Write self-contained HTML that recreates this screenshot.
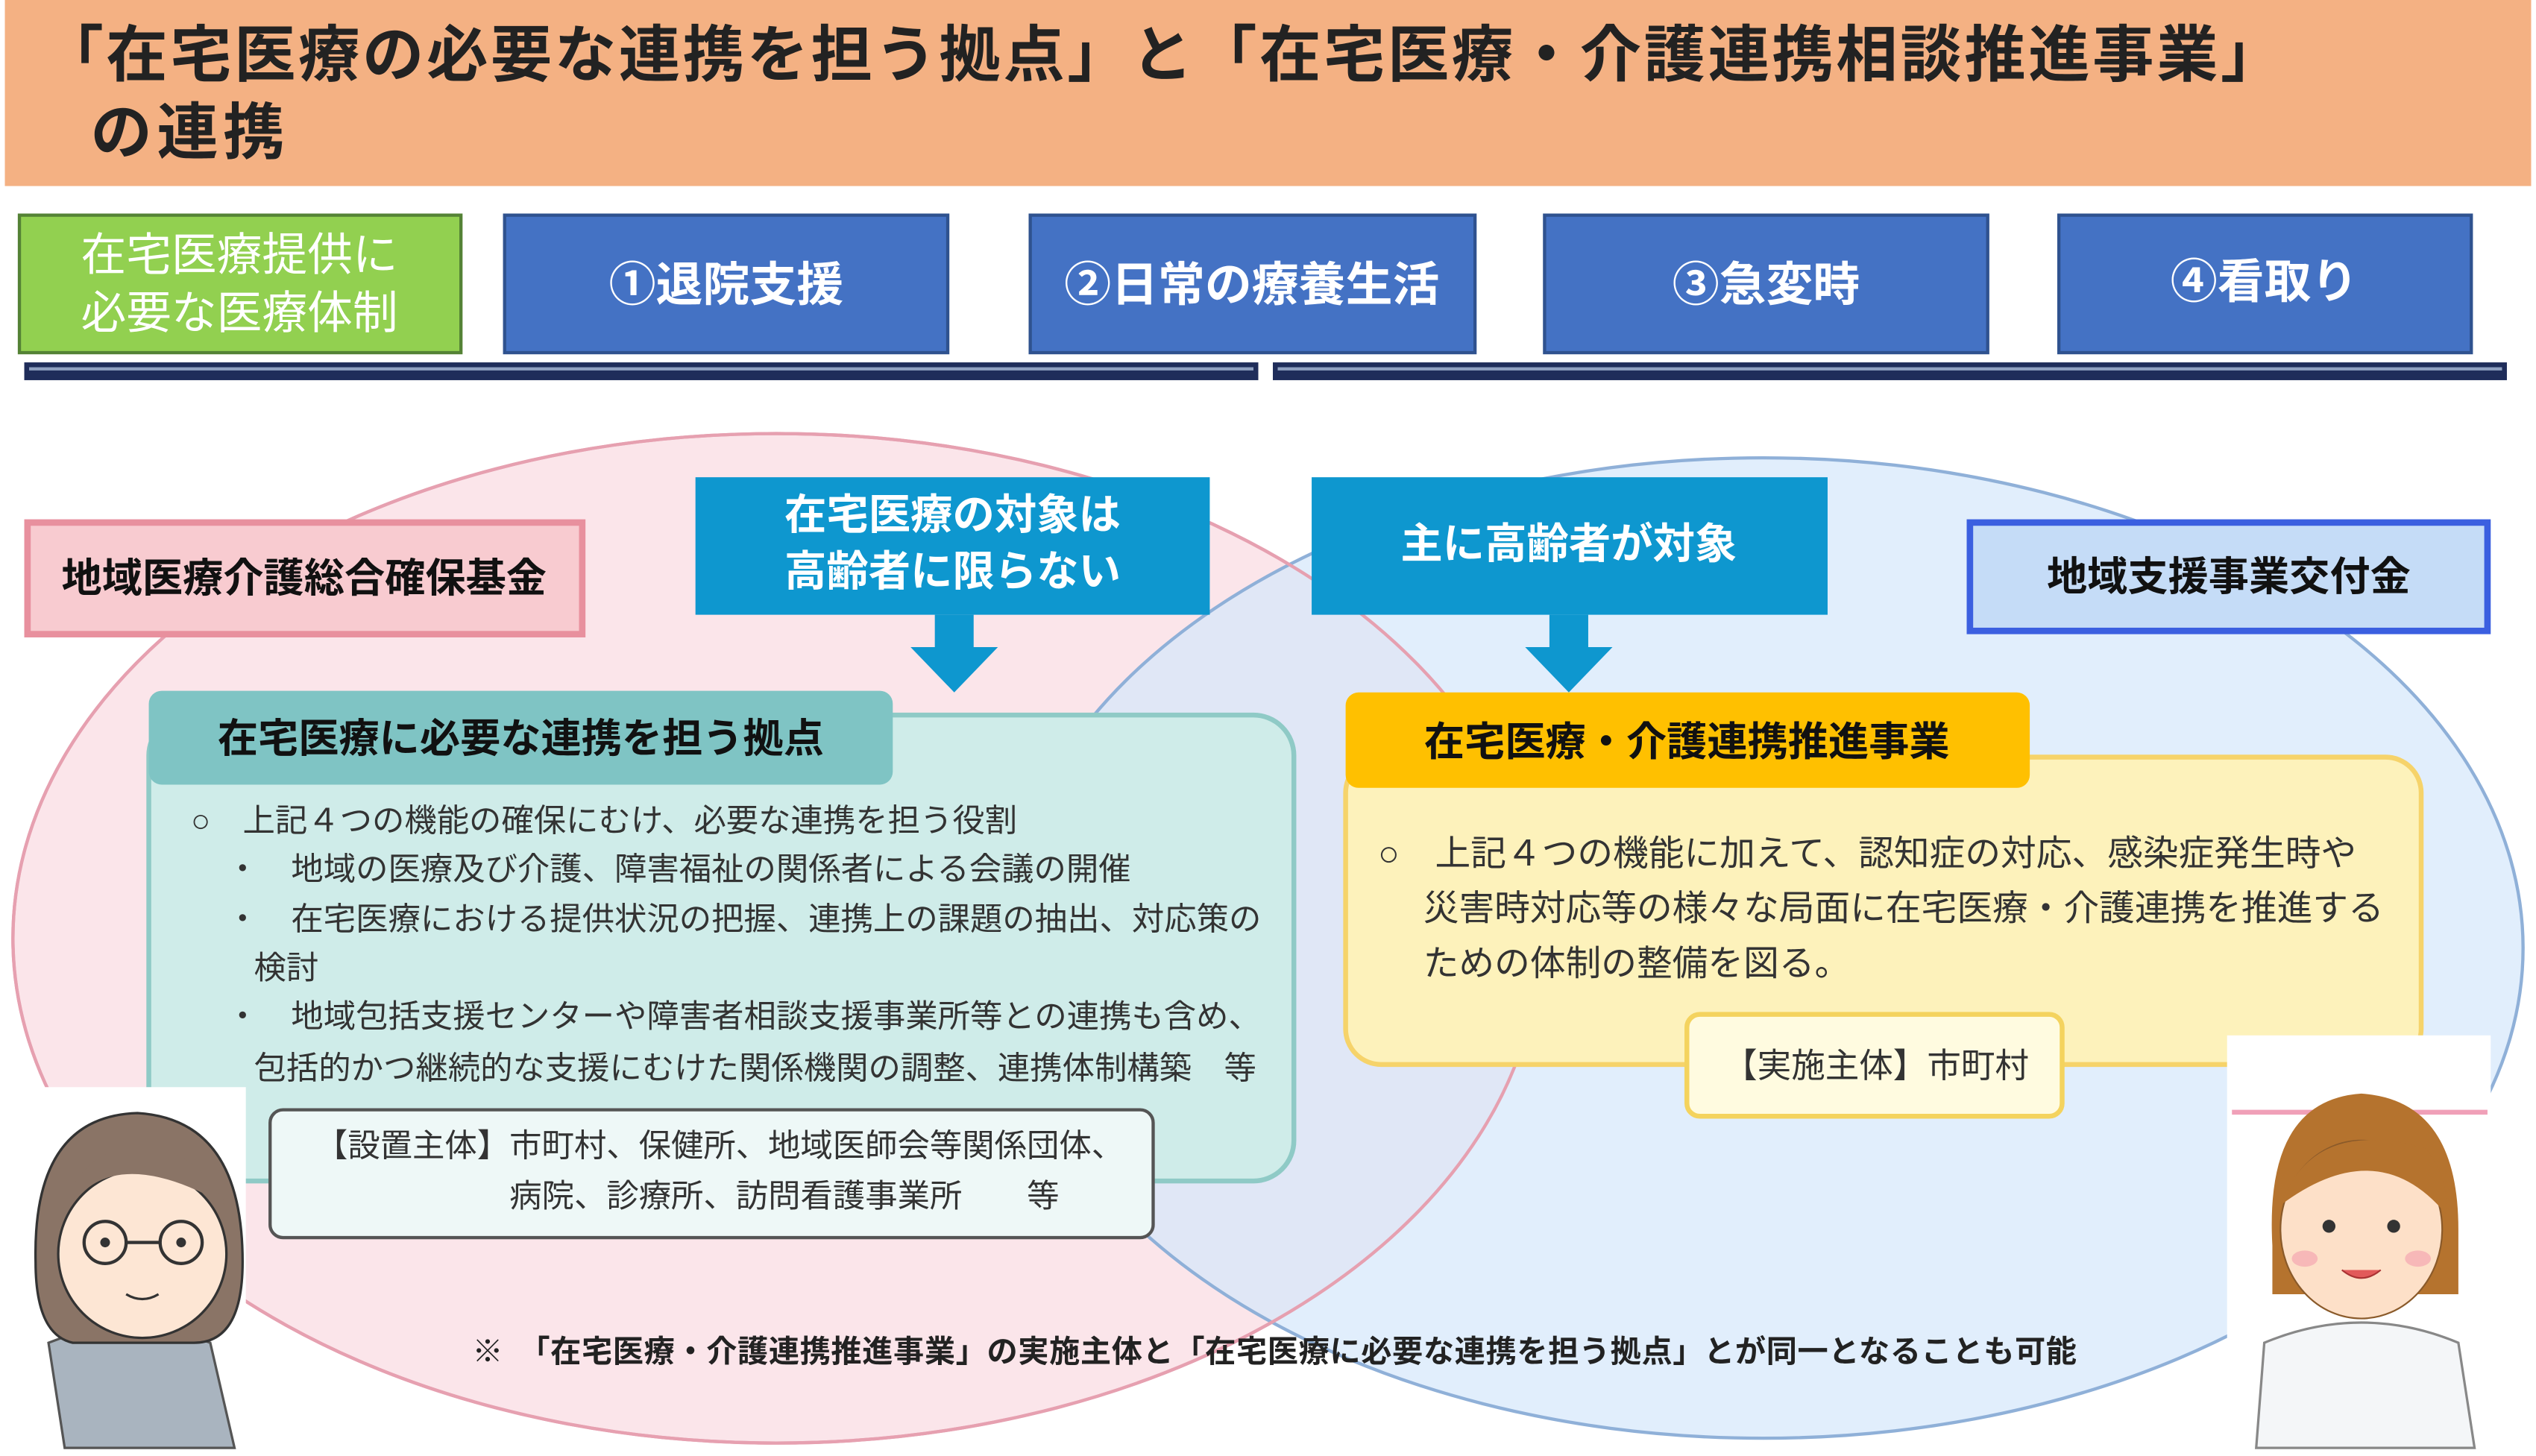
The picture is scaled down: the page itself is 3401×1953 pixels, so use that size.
<!DOCTYPE html>
<html><head><meta charset="utf-8"><style>
html,body{margin:0;padding:0;background:#fff;}
svg{display:block;}
text{font-family:"Liberation Sans","Noto Sans CJK JP",sans-serif;}
</style></head><body>
<svg width="3401" height="1953" viewBox="0 0 1568 900" preserveAspectRatio="none" xmlns="http://www.w3.org/2000/svg">
<rect x="0" y="0" width="1568" height="900" fill="#fff"/>
<!-- title -->
<rect x="3" y="0" width="1562" height="115" fill="#f4b183"/>
<text x="26" y="47" font-size="38" font-weight="bold" fill="#222" textLength="1385" lengthAdjust="spacing">「在宅医療の必要な連携を担う拠点」と「在宅医療・介護連携相談推進事業」</text>
<text x="56" y="95" font-size="38" font-weight="bold" fill="#222" textLength="120" lengthAdjust="spacing">の連携</text>
<!-- header boxes -->
<rect x="12" y="133" width="273" height="85" fill="#92d050" stroke="#548235" stroke-width="2"/>
<text x="148" y="167" font-size="28" fill="#fff" text-anchor="middle">在宅医療提供に</text>
<text x="148" y="203" font-size="28" fill="#fff" text-anchor="middle">必要な医療体制</text>
<g fill="#4472c4" stroke="#2f528f" stroke-width="2">
<rect x="312" y="133" width="274" height="85"/>
<rect x="637" y="133" width="275" height="85"/>
<rect x="955" y="133" width="274" height="85"/>
<rect x="1273" y="133" width="255" height="85"/>
</g>
<g font-size="29" fill="#fff" text-anchor="middle" font-weight="bold">
<text x="449" y="186">①退院支援</text>
<text x="774" y="186">②日常の療養生活</text>
<text x="1092" y="186">③急変時</text>
<text x="1400" y="184">④看取り</text>
</g>
<rect x="15" y="224" width="763" height="11" fill="#1f2d5a"/>
<rect x="18" y="227" width="757" height="2" fill="#8fa0c0"/>
<rect x="787" y="224" width="763" height="11" fill="#1f2d5a"/>
<rect x="790" y="227" width="757" height="2" fill="#8fa0c0"/>
<!-- ellipses -->
<ellipse cx="480" cy="580" rx="472" ry="312" fill="#fbe5ea" stroke="#e6a0b0" stroke-width="2"/>
<ellipse cx="1090" cy="586" rx="470" ry="303" fill="#d6e7fb" fill-opacity="0.72" stroke="#8fb0d8" stroke-width="2"/>
<ellipse cx="480" cy="580" rx="472" ry="312" fill="none" stroke="#e6a0b0" stroke-width="2"/>
<!-- fund boxes -->
<rect x="17" y="323" width="343" height="69" fill="#f8cbd0" stroke="#e8909e" stroke-width="4"/>
<text x="188" y="366" font-size="25" font-weight="bold" fill="#111" text-anchor="middle">地域医療介護総合確保基金</text>
<rect x="1218" y="323" width="320" height="67" fill="#c5dcf7" stroke="#3b5fe0" stroke-width="4"/>
<text x="1378" y="365" font-size="25" font-weight="bold" fill="#111" text-anchor="middle">地域支援事業交付金</text>
<!-- cyan boxes & arrows -->
<rect x="430" y="295" width="318" height="85" fill="#0e97cf"/>
<text x="589" y="327" font-size="26" fill="#fff" text-anchor="middle" font-weight="bold">在宅医療の対象は</text>
<text x="589" y="362" font-size="26" fill="#fff" text-anchor="middle" font-weight="bold">高齢者に限らない</text>
<polygon points="578,380 602,380 602,400 617,400 590,428 563,400 578,400" fill="#0e97cf"/>
<rect x="811" y="295" width="319" height="85" fill="#0e97cf"/>
<text x="970" y="345" font-size="26" fill="#fff" text-anchor="middle" font-weight="bold">主に高齢者が対象</text>
<polygon points="958,380 982,380 982,400 997,400 970,428 943,400 958,400" fill="#0e97cf"/>
<!-- teal block -->
<rect x="92" y="442" width="708" height="288" rx="25" fill="#cfece9" stroke="#8fcac6" stroke-width="3"/>
<rect x="92" y="427" width="460" height="58" rx="8" fill="#7fc4c4"/>
<text x="322" y="465" font-size="25" font-weight="bold" fill="#111" text-anchor="middle">在宅医療に必要な連携を担う拠点</text>
<g font-size="20" fill="#333">
<text x="118" y="514">○　上記４つの機能の確保にむけ、必要な連携を担う役割</text>
<text x="140" y="544">・　地域の医療及び介護、障害福祉の関係者による会議の開催</text>
<text x="140" y="575">・　在宅医療における提供状況の把握、連携上の課題の抽出、対応策の</text>
<text x="157" y="605">検討</text>
<text x="140" y="635">・　地域包括支援センターや障害者相談支援事業所等との連携も含め、</text>
<text x="157" y="667">包括的かつ継続的な支援にむけた関係機関の調整、連携体制構築　等</text>
</g>
<rect x="167" y="686" width="546" height="79" rx="8" fill="#eef8f7" stroke="#555" stroke-width="2"/>
<text x="195" y="715" font-size="20" fill="#333">【設置主体】市町村、保健所、地域医師会等関係団体、</text>
<text x="315" y="746" font-size="20" fill="#333">病院、診療所、訪問看護事業所　　等</text>
<!-- yellow block -->
<rect x="832" y="468" width="665" height="190" rx="22" fill="#fdf2bb" stroke="#f6d36a" stroke-width="3"/>
<rect x="832" y="428" width="423" height="59" rx="8" fill="#ffc000"/>
<text x="1043" y="467" font-size="25" font-weight="bold" fill="#111" text-anchor="middle">在宅医療・介護連携推進事業</text>
<g font-size="22" fill="#333">
<text x="852" y="535">○　上記４つの機能に加えて、認知症の対応、感染症発生時や</text>
<text x="880" y="569">災害時対応等の様々な局面に在宅医療・介護連携を推進する</text>
<text x="880" y="603">ための体制の整備を図る。</text>
</g>
<rect x="1043" y="627" width="232" height="63" rx="8" fill="#fffbe0" stroke="#f4d35e" stroke-width="3"/>
<text x="1160" y="666" font-size="21" fill="#333" text-anchor="middle">【実施主体】市町村</text>
<!-- footnote -->
<text x="292" y="842" font-size="19" font-weight="bold" fill="#222" textLength="992" lengthAdjust="spacing">※　「在宅医療・介護連携推進事業」の実施主体と「在宅医療に必要な連携を担う拠点」とが同一となることも可能</text>
<!-- left character -->
<rect x="0" y="672" width="152" height="223" fill="#fff"/>
<path d="M40,895 L30,830 Q80,810 130,830 L145,895 Z" fill="#a9b4bf" stroke="#555" stroke-width="1.5"/>
<path d="M22,780 Q20,690 85,688 Q150,692 150,780 Q150,830 120,830 L45,830 Q22,825 22,780 Z" fill="#8a7466" stroke="#333" stroke-width="1.5"/>
<ellipse cx="88" cy="775" rx="52" ry="52" fill="#fde6d4" stroke="#333" stroke-width="1.5"/>
<path d="M36,760 Q60,700 140,745 Q120,710 88,708 Q45,710 36,760Z" fill="#8a7466"/>
<circle cx="65" cy="768" r="13" fill="none" stroke="#333" stroke-width="2"/>
<circle cx="112" cy="768" r="13" fill="none" stroke="#333" stroke-width="2"/>
<line x1="78" y1="768" x2="99" y2="768" stroke="#333" stroke-width="2"/>
<circle cx="65" cy="768" r="3" fill="#333"/><circle cx="112" cy="768" r="3" fill="#333"/>
<path d="M78,800 Q88,806 98,800" fill="none" stroke="#333" stroke-width="1.5"/>
<!-- right character -->
<rect x="1377" y="640" width="163" height="255" fill="#fff"/>
<rect x="1380" y="686" width="158" height="3" fill="#f0a0b8"/>
<path d="M1395,895 L1400,830 Q1460,805 1520,830 L1530,895 Z" fill="#f4f6f8" stroke="#888" stroke-width="1.5"/>
<path d="M1405,770 Q1400,680 1460,676 Q1520,680 1520,760 L1520,800 L1405,800 Z" fill="#b5732e"/>
<ellipse cx="1460" cy="760" rx="50" ry="55" fill="#fde0c8" stroke="#8a5a2a" stroke-width="1"/>
<path d="M1410,745 Q1430,690 1500,710 Q1515,730 1512,750 Q1470,700 1410,745Z" fill="#b5732e"/>
<circle cx="1440" cy="758" r="4" fill="#333"/><circle cx="1480" cy="758" r="4" fill="#333"/>
<ellipse cx="1425" cy="778" rx="8" ry="5" fill="#f7b8b8"/><ellipse cx="1495" cy="778" rx="8" ry="5" fill="#f7b8b8"/>
<path d="M1448,785 Q1460,795 1472,785" fill="#e25a5a" stroke="#a33" stroke-width="1"/>
</svg>
</body></html>
